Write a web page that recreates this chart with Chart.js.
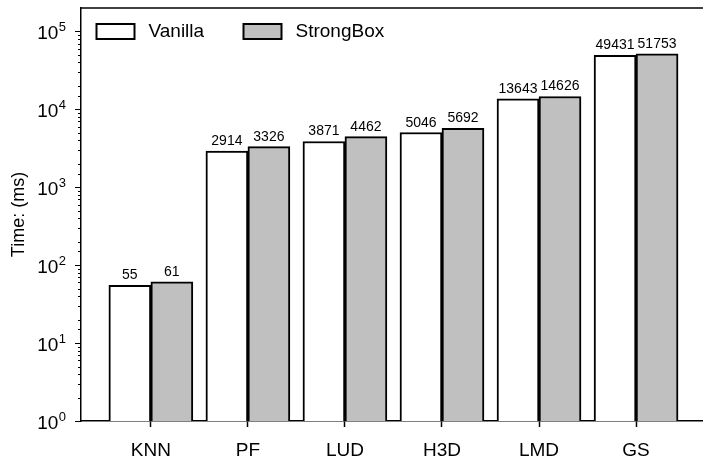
<!DOCTYPE html>
<html>
<head>
<meta charset="utf-8">
<script src="https://cdn.jsdelivr.net/npm/chart.js@4/dist/chart.umd.min.js"></script>
<style>
  html, body { margin: 0; padding: 0; background: #fff; }
  #wrap { width: 703px; height: 458px; }
</style>
</head>
<body>
<div id="wrap"><canvas id="c" width="703" height="458"></canvas></div>
<script>
const categories = ['KNN', 'PF', 'LUD', 'H3D', 'LMD', 'GS'];
const vanilla = [55, 2914, 3871, 5046, 13643, 49431];
const strongbox = [61, 3326, 4462, 5692, 14626, 51753];
const seriesNames = ['Vanilla', 'StrongBox'];
const yTitle = 'Time: (ms)';

const FONT = '"Liberation Sans", Arial, Helvetica, sans-serif';

const framePlugin = {
  id: 'frame',
  afterDraw(chart) {
    const ctx = chart.ctx;
    const a = chart.chartArea;
    const y = chart.scales.y;
    ctx.save();
    ctx.strokeStyle = '#000';
    // top frame line
    ctx.lineWidth = 1.5;
    ctx.beginPath();
    ctx.moveTo(a.left, a.top);
    ctx.lineTo(chart.width, a.top);
    ctx.stroke();
    // y ticks and labels
    ctx.lineWidth = 1;
    y.ticks.forEach(t => {
      const v = t.value;
      if (v > 100000 || v < 1) return;
      const p = Math.round(y.getPixelForValue(v)) + 0.5;
      const exp = Math.log10(v);
      const major = Math.abs(exp - Math.round(exp)) < 1e-9;
      ctx.beginPath();
      ctx.moveTo(a.left - (major ? 6 : 3), p);
      ctx.lineTo(a.left, p);
      ctx.stroke();
      if (major) {
        const e = String(Math.round(exp));
        ctx.fillStyle = '#000';
        ctx.textBaseline = 'alphabetic';
        ctx.textAlign = 'right';
        ctx.font = '13px ' + FONT;
        const ew = ctx.measureText(e).width;
        const right = a.left - 15;
        ctx.fillText(e, right, p - 0.5);
        ctx.font = '19px ' + FONT;
        ctx.fillText('10', right - ew - 0.5, p + 7);
      }
    });
    // value labels
    ctx.font = '14px ' + FONT;
    ctx.fillStyle = '#000';
    ctx.textAlign = 'center';
    ctx.textBaseline = 'alphabetic';
    chart.data.datasets.forEach((ds, di) => {
      const meta = chart.getDatasetMeta(di);
      meta.data.forEach((bar, i) => {
        ctx.fillText(String(ds.data[i].y), bar.x, bar.y - 6);
      });
    });
    // legend
    const items = chart.data.datasets;
    const boxX = [96.5, 243.5];
    items.forEach((ds, di) => {
      const bx = boxX[di];
      ctx.fillStyle = ds.backgroundColor;
      ctx.fillRect(bx, 24, 38, 15);
      ctx.lineWidth = 2;
      ctx.strokeStyle = '#000';
      ctx.strokeRect(bx, 24, 38, 15);
      ctx.fillStyle = '#000';
      ctx.font = '19px ' + FONT;
      ctx.textAlign = 'left';
      ctx.textBaseline = 'middle';
      ctx.fillText(ds.label, bx + 52, 32);
    });
    ctx.restore();
  }
};

const chart = new Chart(document.getElementById('c'), {
  type: 'bar',
  data: {
    datasets: [
      {
        label: seriesNames[0],
        data: vanilla.map((v, i) => ({ x: i, y: v })),
        backgroundColor: '#ffffff',
        borderColor: '#000000',
        borderWidth: 2
      },
      {
        label: seriesNames[1],
        data: strongbox.map((v, i) => ({ x: i, y: v })),
        backgroundColor: '#c0c0c0',
        borderColor: '#000000',
        borderWidth: 2
      }
    ]
  },
  options: {
    responsive: false,
    animation: false,
    devicePixelRatio: 1,
    barThickness: 42,
    layout: { padding: { top: 8, right: 0, left: 0, bottom: 0 } },
    plugins: {
      legend: { display: false },
      tooltip: { enabled: false }
    },
    scales: {
      x: {
        type: 'linear',
        offset: false,
        min: -0.72,
        max: 5.69,
        afterFit(s) { s.height = 37; },
        border: { display: true, color: '#000', width: 1.5 },
        grid: { display: true, offset: false, drawOnChartArea: false, tickLength: 6, color: '#000', tickColor: '#000', tickWidth: 1.5 },
        ticks: {
          stepSize: 1,
          includeBounds: false,
          autoSkip: false,
          maxRotation: 0,
          padding: 12,
          color: '#000',
          font: { family: FONT, size: 19 },
          callback: (v) => categories[v] !== undefined && Number.isInteger(v) ? categories[v] : ''
        }
      },
      y: {
        type: 'logarithmic',
        min: 1,
        max: 200000,
        afterFit(s) { s.width = 81; },
        border: { display: true, color: '#000', width: 1.5 },
        grid: { display: false },
        ticks: { display: false },
        title: {
          display: true,
          text: yTitle,
          color: '#000',
          font: { family: FONT, size: 18 },
          padding: { top: 8, bottom: 0 }
        }
      }
    }
  },
  plugins: [framePlugin]
});
</script>
</body>
</html>
